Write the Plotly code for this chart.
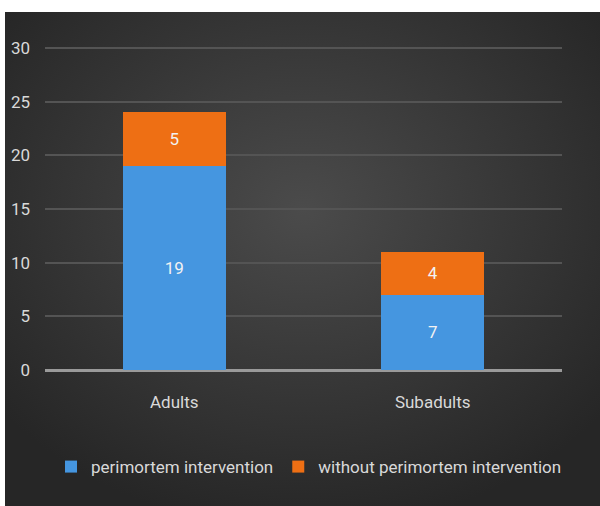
import base64
import plotly.graph_objects as go

categories = ["Adults", "Subadults"]
perimortem = [19, 7]
without_perimortem = [5, 4]
series_names = ["perimortem intervention", "without perimortem intervention"]
tick_vals = [0, 5, 10, 15, 20, 25, 30]

FONT = "Roboto, Liberation Sans Narrow, sans-serif"

svg = """<svg xmlns='http://www.w3.org/2000/svg' width='600' height='500' preserveAspectRatio='none'>
<defs><radialGradient id='g' cx='50%' cy='40%' r='65%'>
<stop offset='0%' stop-color='#4b4b4b'/><stop offset='100%' stop-color='#262626'/>
</radialGradient></defs>
<rect width='600' height='500' fill='url(#g)'/></svg>"""
bg_src = "data:image/svg+xml;base64," + base64.b64encode(svg.encode()).decode()

fig = go.Figure()
fig.add_trace(go.Bar(
    x=categories, y=perimortem, name=series_names[0],
    marker=dict(color="#4596e0", line=dict(width=0)),
    text=perimortem, textposition="inside", insidetextanchor="middle",
    textfont=dict(color="#f2f2f2", size=17, family=FONT),
))
fig.add_trace(go.Bar(
    x=categories, y=without_perimortem, name=series_names[1],
    marker=dict(color="#ee6f14", line=dict(width=0)),
    text=without_perimortem, textposition="inside", insidetextanchor="middle",
    textfont=dict(color="#f2f2f2", size=17, family=FONT),
))

fig.update_layout(
    width=600, height=506,
    barmode="stack", bargap=0.6,
    margin=dict(l=45, r=38, t=47, b=136),
    paper_bgcolor="white", plot_bgcolor="rgba(0,0,0,0)",
    font=dict(family=FONT, color="#d9d9d9", size=17),
    images=[dict(
        source=bg_src, xref="paper", yref="paper",
        x=-0.0774, y=1.1084, sizex=1.1548, sizey=1.53,
        sizing="stretch", xanchor="left", yanchor="top", layer="below",
    )],
    xaxis=dict(
        showgrid=False, showline=False, zeroline=False, ticks="",
        ticklabelstandoff=20,
        tickfont=dict(size=17, color="#d9d9d9"),
    ),
    yaxis=dict(
        range=[0, 30.1], tickvals=tick_vals, showgrid=True,
        gridcolor="#545454", gridwidth=2, zeroline=True,
        zerolinecolor="#9a9a9a", zerolinewidth=3, showline=False,
        ticks="", ticklabelstandoff=14,
        tickfont=dict(size=17, color="#d9d9d9"),
    ),
    legend=dict(
        orientation="h", xref="container", yref="container",
        x=0.515, xanchor="center", y=0.077, yanchor="middle",
        bgcolor="rgba(0,0,0,0)", font=dict(size=17, color="#d9d9d9"),
        itemwidth=30, traceorder="normal",
    ),
)

fig.write_html("out.html")
